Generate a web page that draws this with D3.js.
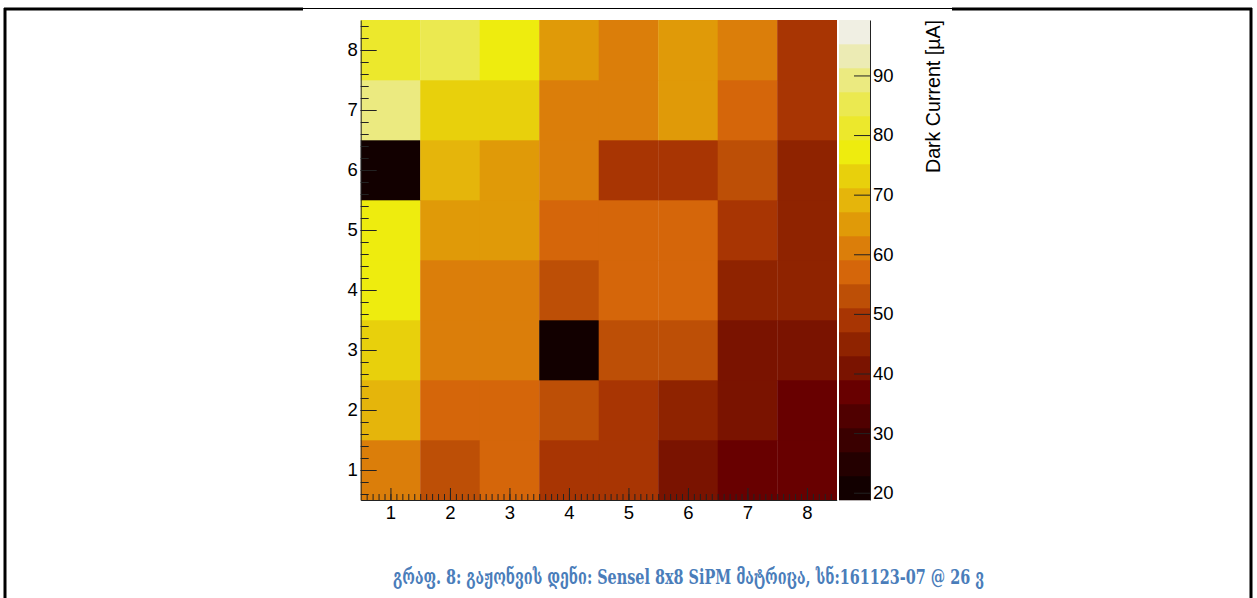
<!DOCTYPE html>
<html>
<head>
<meta charset="utf-8">
<script src="https://cdn.jsdelivr.net/npm/d3@7"></script>
<style>
  html, body { margin: 0; padding: 0; background: #fff; }
  svg { display: block; }
</style>
</head>
<body>
<svg id="vis" width="1257" height="598"></svg>
<script>
'use strict';

// sensel columns / rows (1..8)
var columns = [1, 2, 3, 4, 5, 6, 7, 8];
var rows = [1, 2, 3, 4, 5, 6, 7, 8];

// dark current per sensel [uA], one array per row (row 1 at the bottom)
var row1 = [61.1, 53.0, 57.0, 49.0, 49.0, 40.9, 36.9, 36.9];
var row2 = [69.1, 57.0, 57.0, 53.0, 49.0, 45.0, 40.9, 36.9];
var row3 = [73.2, 61.1, 61.1, 20.8, 53.0, 53.0, 40.9, 40.9];
var row4 = [77.2, 61.1, 61.1, 53.0, 57.0, 57.0, 45.0, 45.0];
var row5 = [77.2, 65.1, 65.1, 57.0, 57.0, 57.0, 49.0, 45.0];
var row6 = [20.8, 69.1, 65.1, 61.1, 49.0, 49.0, 53.0, 45.0];
var row7 = [89.3, 73.2, 73.2, 61.1, 61.1, 65.1, 57.0, 49.0];
var row8 = [81.2, 85.2, 77.2, 65.1, 61.1, 65.1, 61.1, 49.0];

// colour axis
var zRange = [18.78, 99.3];
var zTicks = [20, 30, 40, 50, 60, 70, 80, 90];
var zTitle = 'Dark Current [\u00b5A]';

var caption = 'გრაფ. 8: გაჟონვის დენი: Sensel 8x8 SiPM მატრიცა, სნ:161123-07 @ 26 ვ';

// 20 contour colours, low to high
var palette = ['#120000', '#240000', '#3a0000', '#500000', '#680000',
               '#7a1300', '#8f2300', '#a83503', '#bd4f06', '#d5660a',
               '#db7e0a', '#e09a08', '#e5b50b', '#e8d00c', '#eeec0e',
               '#ece82c', '#ebe950', '#ebea80', '#ecebb4', '#f0efe3'];

(function () {
    var grid = [row1, row2, row3, row4, row5, row6, row7, row8];
    var cells = [];
    rows.forEach(function (r, i) {
        columns.forEach(function (c, j) {
            cells.push({col: c, row: r, value: grid[i][j]});
        });
    });

    var svg = d3.select('#vis');
    var font = '"Liberation Sans", Arial, sans-serif';

    // page border (document table frame)
    var border = svg.append('g').attr('stroke', '#000').attr('fill', 'none');
    border.append('line').attr('x1', 5).attr('x2', 5).attr('y1', 8).attr('y2', 598).attr('stroke-width', 3);
    border.append('line').attr('x1', 1251).attr('x2', 1251).attr('y1', 8).attr('y2', 598).attr('stroke-width', 3);
    border.append('line').attr('x1', 4).attr('x2', 303).attr('y1', 9).attr('y2', 9).attr('stroke-width', 3);
    border.append('line').attr('x1', 952).attr('x2', 1252).attr('y1', 9).attr('y2', 9).attr('stroke-width', 3);
    border.append('line').attr('x1', 303).attr('x2', 952).attr('y1', 8.5).attr('y2', 8.5).attr('stroke-width', 1);

    var left = 360.7, right = 836.7, top = 20, bottom = 500;

    var x = d3.scaleLinear().domain([0.5, 8.5]).range([left, right]);
    var y = d3.scaleLinear().domain([0.5, 8.5]).range([bottom, top]);
    var color = d3.scaleQuantize().domain(zRange).range(palette);

    svg.append('g').selectAll('rect')
        .data(cells)
        .enter().append('rect')
        .attr('x', function (d) { return x(d.col - 0.5); })
        .attr('y', function (d) { return y(d.row + 0.5); })
        .attr('width', function (d) { return x(d.col + 0.5) - x(d.col - 0.5) + 0.3; })
        .attr('height', function (d) { return y(d.row - 0.5) - y(d.row + 0.5) + 0.3; })
        .attr('fill', function (d) { return color(d.value); });

    // minor tick values
    var xMinor = d3.range(6, 85).map(function (v) { return v / 10; });
    var yMinor = d3.range(3, 43).map(function (v) { return v / 5; });

    function styleAxis(g) {
        g.selectAll('path, line').attr('stroke', '#222');
        g.selectAll('text').attr('fill', '#000').style('font-family', font).style('font-size', '18.5px');
    }

    // x axis, ticks pointing up into the plot
    svg.append('g')
        .attr('transform', 'translate(0,' + bottom + ')')
        .call(d3.axisBottom(x).tickValues(xMinor).tickFormat('').tickSizeInner(-6).tickSizeOuter(0))
        .call(styleAxis);
    svg.append('g')
        .attr('transform', 'translate(0,' + bottom + ')')
        .call(d3.axisBottom(x).tickValues(columns).tickFormat(d3.format('d')).tickSizeInner(-12).tickSizeOuter(0).tickPadding(6))
        .call(styleAxis)
        .call(function (g) { g.select('.domain').remove(); });

    // y axis, ticks pointing right into the plot
    svg.append('g')
        .attr('transform', 'translate(' + left + ',0)')
        .call(d3.axisLeft(y).tickValues(yMinor).tickFormat('').tickSizeInner(-8).tickSizeOuter(0))
        .call(styleAxis);
    svg.append('g')
        .attr('transform', 'translate(' + left + ',0)')
        .call(d3.axisLeft(y).tickValues(rows).tickFormat(d3.format('d')).tickSizeInner(-16).tickSizeOuter(0).tickPadding(3))
        .call(styleAxis)
        .call(function (g) { g.select('.domain').remove(); });

    // colour bar
    var cbLeft = 839, cbRight = 870;
    var z = d3.scaleLinear().domain(zRange).range([bottom, top]);
    var step = (zRange[1] - zRange[0]) / palette.length;

    svg.append('g').selectAll('rect')
        .data(palette)
        .enter().append('rect')
        .attr('x', cbLeft)
        .attr('y', function (d, i) { return z(zRange[0] + (i + 1) * step); })
        .attr('width', cbRight - cbLeft)
        .attr('height', function (d, i) { return z(zRange[0] + i * step) - z(zRange[0] + (i + 1) * step) + 0.3; })
        .attr('fill', function (d) { return d; });

    svg.append('g')
        .attr('transform', 'translate(' + cbRight + ',0)')
        .call(d3.axisRight(z).tickValues(zTicks).tickSizeInner(-16).tickSizeOuter(0).tickPadding(3))
        .call(styleAxis);

    svg.append('text')
        .attr('transform', 'translate(940,' + top + ') rotate(-90)')
        .attr('text-anchor', 'end')
        .attr('textLength', 153)
        .attr('lengthAdjust', 'spacingAndGlyphs')
        .style('font-family', font)
        .style('font-size', '19.5px')
        .attr('fill', '#000')
        .text(zTitle);

    // figure caption
    svg.append('text')
        .attr('x', 393)
        .attr('y', 584)
        .attr('textLength', 591)
        .attr('lengthAdjust', 'spacingAndGlyphs')
        .style('font-family', '"DejaVu Serif", serif')
        .style('font-size', '21px')
        .style('font-weight', 'bold')
        .attr('fill', '#4a7dba')
        .text(caption);
})();
</script>
</body>
</html>
